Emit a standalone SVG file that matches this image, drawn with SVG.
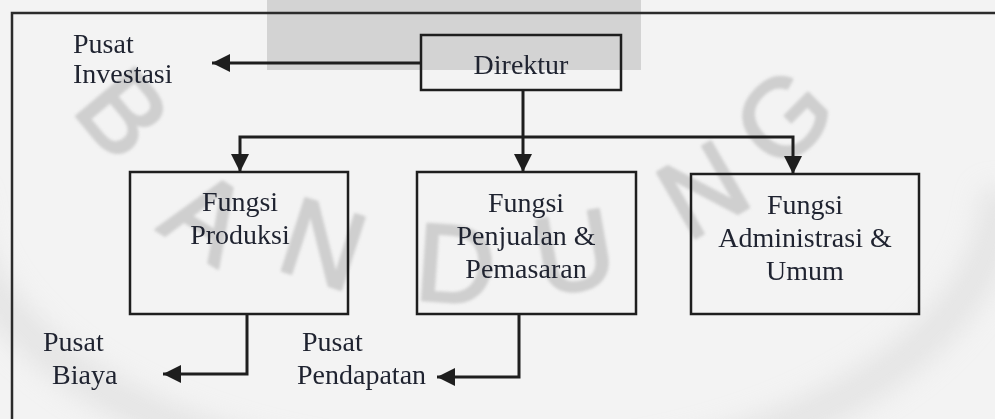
<svg xmlns="http://www.w3.org/2000/svg" width="995" height="419" viewBox="0 0 995 419">
  <defs>
    <style>
      .frame { fill: none; stroke: #2b2b2b; stroke-width: 2.5; }
      .box { fill: none; stroke: #1e1e1e; stroke-width: 2.5; }
      .wire { fill: none; stroke: #1e1e1e; stroke-width: 3; marker-end: url(#arrow); }
      .label { font-family: "Liberation Serif", "Times New Roman", serif; font-size: 28px; fill: #1f2330; }
      .mid { text-anchor: middle; }
      .mark { font-family: "Liberation Sans", Arial, sans-serif; font-size: 110px; fill: #cfcfcf; stroke: #cfcfcf; stroke-width: 3; stroke-linejoin: round; text-anchor: middle; }
    </style>
    <marker id="arrow" markerUnits="userSpaceOnUse" markerWidth="18" markerHeight="18" refX="18" refY="9" orient="auto">
      <path d="M0,0 L18,9 L0,18 Z" fill="#1e1e1e"/>
    </marker>
    <filter id="soft" x="-20%" y="-30%" width="140%" height="160%">
      <feGaussianBlur stdDeviation="14"/>
    </filter>
    <filter id="fuzz" x="-10%" y="-10%" width="120%" height="120%">
      <feGaussianBlur stdDeviation="1.4"/>
    </filter>
  </defs>

  <!-- paper -->
  <rect x="0" y="0" width="995" height="419" fill="#f3f3f3"/>
  <path d="M-40,190 A520,290 0 0 0 1000,190" fill="none" stroke="#d9d9d9" stroke-width="34" opacity="0.6" filter="url(#soft)"/>

  <!-- background lettering -->
  <g id="watermark" filter="url(#fuzz)">
    <text class="mark" transform="translate(125,112) rotate(50)" y="40">B</text>
    <text class="mark" transform="translate(208,215) rotate(32)" y="40">A</text>
    <text class="mark" transform="translate(324,242) rotate(18)" y="40">N</text>
    <text class="mark" transform="translate(456,262) rotate(4)" y="40">D</text>
    <text class="mark" transform="translate(574,250) rotate(-10)" y="40">U</text>
    <text class="mark" transform="translate(702,188) rotate(-30)" y="40">N</text>
    <text class="mark" transform="translate(782,116) rotate(-45)" y="40">G</text>
  </g>

  <!-- header band -->
  <rect x="267" y="0" width="374" height="70" fill="#cfcfcf" opacity="0.9"/>

  <!-- outer frame -->
  <path class="frame" d="M12,419 V13 H995"/>

  <g id="direktur">
    <rect class="box" x="421" y="35" width="200" height="55"/>
    <text class="label mid" x="521" y="74">Direktur</text>
  </g>

  <g id="pusat-investasi">
    <text class="label" x="73" y="53">Pusat</text>
    <text class="label" x="73" y="83">Investasi</text>
  </g>

  <g id="fungsi-produksi">
    <rect class="box" x="130" y="172" width="218" height="142"/>
    <text class="label mid" x="240" y="211">Fungsi</text>
    <text class="label mid" x="240" y="244">Produksi</text>
  </g>

  <g id="fungsi-penjualan">
    <rect class="box" x="417" y="172" width="219" height="142"/>
    <text class="label mid" x="526" y="212">Fungsi</text>
    <text class="label mid" x="526" y="245">Penjualan &amp;</text>
    <text class="label mid" x="526" y="278">Pemasaran</text>
  </g>

  <g id="fungsi-administrasi">
    <rect class="box" x="691" y="174" width="228" height="140"/>
    <text class="label mid" x="805" y="214">Fungsi</text>
    <text class="label mid" x="805" y="247">Administrasi &amp;</text>
    <text class="label mid" x="805" y="280">Umum</text>
  </g>

  <g id="pusat-biaya">
    <text class="label" x="43" y="351">Pusat</text>
    <text class="label" x="52" y="384">Biaya</text>
  </g>

  <g id="pusat-pendapatan">
    <text class="label" x="302" y="351">Pusat</text>
    <text class="label" x="297" y="384">Pendapatan</text>
  </g>

  <g id="connectors">
    <path class="wire" d="M421,63 H212"/>
    <path class="wire" d="M523,90 V172"/>
    <path class="wire" d="M523,137 H240 V172"/>
    <path class="wire" d="M523,137 H793 V174"/>
    <path class="wire" d="M247,314 V374 H163"/>
    <path class="wire" d="M519,314 V377 H437"/>
  </g>
</svg>
